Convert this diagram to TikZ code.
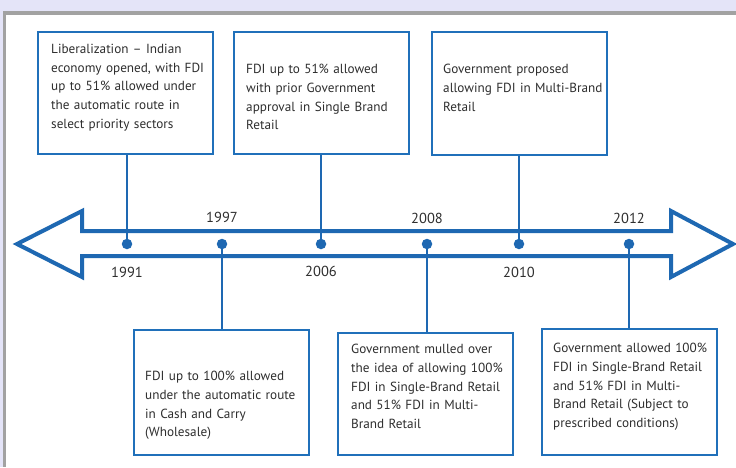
\documentclass[tikz,border=0pt]{standalone}
\usepackage{fontspec}
\setmainfont{PT Sans}[WordSpace=0.85]
\definecolor{lineblue}{HTML}{1E68B2}
\definecolor{boxblue}{HTML}{2070BA}
\definecolor{txtgrey}{HTML}{2E2E2E}
\definecolor{bandlav}{HTML}{E4E4F8}
\definecolor{bandgrey}{HTML}{A2A2A2}
\begin{document}
\begin{tikzpicture}[x=1pt,y=-1pt,
  eventbox/.style={draw=boxblue, line width=2pt, rectangle, inner sep=0pt, fill=white},
  eventtext/.style={anchor=north west, inner sep=0pt, align=left, text=txtgrey,
    font=\fontsize{13.2}{18.7}\selectfont, text width=165pt},
  yeardot/.style={circle, fill=lineblue, inner sep=0pt, minimum size=10.5pt},
  yearlabel/.style={text=txtgrey, font=\fontsize{14.5}{16}\selectfont, inner sep=0pt},
  stem/.style={draw=lineblue, line width=2pt}]
\useasboundingbox (0,0) rectangle (736,467);
% page frame
\fill[bandlav] (0,0) rectangle (736,467);
\fill[white] (4,12) rectangle (736,467);
\fill[bandgrey] (3,11) rectangle (736,14.5);
\fill[bandgrey] (3,11) rectangle (6,467);

% double-headed timeline arrow
\draw[lineblue, line width=4pt, line join=miter]
  (17,244) -- (82,211) -- (82,231) -- (671,231) -- (671,211) -- (733,244)
  -- (671,277) -- (671,256) -- (82,256) -- (82,277) -- cycle;

% event boxes above the axis
\node[eventbox, minimum width=175pt, minimum height=122pt] (b1) at (125.5,93) {};
\node[eventbox, minimum width=175pt, minimum height=122pt] (b2) at (321.5,93) {};
\node[eventbox, minimum width=175pt, minimum height=123pt] (b3) at (519.5,93.5) {};
% event boxes below the axis
\node[eventbox, minimum width=175pt, minimum height=125pt] (b4) at (221.5,392.5) {};
\node[eventbox, minimum width=175pt, minimum height=122pt] (b5) at (425.5,394) {};
\node[eventbox, minimum width=175pt, minimum height=126pt] (b6) at (629.5,392) {};

\node[eventtext] (t1) at (51,44) {Liberalization -- Indian\\economy opened, with FDI\\up to 51\% allowed under\\the automatic route in\\select priority sectors};
\node[eventtext] (t2) at (246,64) {FDI up to 51\% allowed\\with prior Government\\approval in Single Brand\\Retail};
\node[eventtext] (t3) at (443,64) {Government proposed\\allowing FDI in Multi-Brand\\Retail};
\node[eventtext] (t4) at (145,371) {FDI up to 100\% allowed\\under the automatic route\\in Cash and Carry\\(Wholesale)};
\node[eventtext] (t5) at (351,344) {Government mulled over\\the idea of allowing 100\%\\FDI in Single-Brand Retail\\and 51\% FDI in Multi-\\Brand Retail};
\node[eventtext] (t6) at (553,343) {Government allowed 100\%\\FDI in Single-Brand Retail\\and 51\% FDI in Multi-\\Brand Retail (Subject to\\prescribed conditions)};

% year markers
\node[yeardot] (d1991) at (127,244) {};
\node[yeardot] (d1997) at (222,244) {};
\node[yeardot] (d2006) at (321,244) {};
\node[yeardot] (d2008) at (427,244) {};
\node[yeardot] (d2010) at (519,244) {};
\node[yeardot] (d2012) at (629,244) {};

% stems from markers to boxes
\draw[stem] (d1991.center) -- (d1991.center |- b1.south);
\draw[stem] (d2006.center) -- (d2006.center |- b2.south);
\draw[stem] (d2010.center) -- (d2010.center |- b3.south);
\draw[stem] (d1997.center) -- (d1997.center |- b4.north);
\draw[stem] (d2008.center) -- (d2008.center |- b5.north);
\draw[stem] (d2012.center) -- (d2012.center |- b6.north);

% year labels
\node[yearlabel] (y1991) at (127,272) {1991};
\node[yearlabel] (y1997) at (222,217) {1997};
\node[yearlabel] (y2006) at (321,271) {2006};
\node[yearlabel] (y2008) at (427,218) {2008};
\node[yearlabel] (y2010) at (519,272) {2010};
\node[yearlabel] (y2012) at (629,218) {2012};
\end{tikzpicture}
\end{document}
